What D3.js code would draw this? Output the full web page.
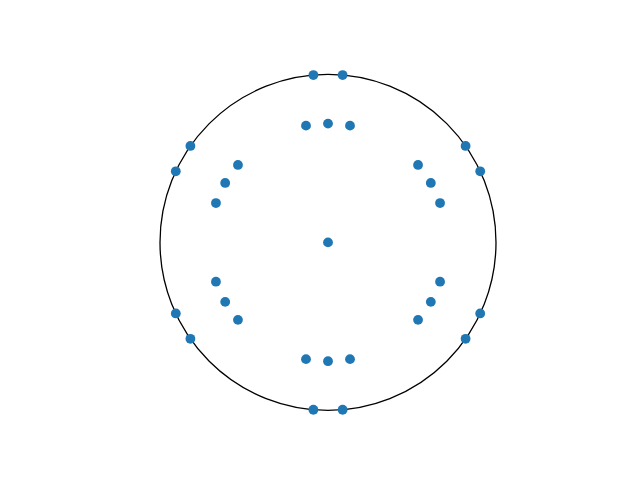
<!DOCTYPE html>
<html>
<head>
<meta charset="utf-8">
<script src="https://cdn.jsdelivr.net/npm/d3@7"></script>
<style>
  html, body { margin: 0; padding: 0; background: #ffffff; }
</style>
</head>
<body>
<script>
// Points on the unit circle
const outerX = [0.906, 0.819, 0.087, -0.087, -0.819, -0.906, -0.906, -0.819, -0.087, 0.087, 0.819, 0.906];
const outerY = [0.423, 0.574, 0.996, 0.996, 0.574, 0.423, -0.423, -0.574, -0.996, -0.996, -0.574, -0.423];
// Inner ring points (radius ~0.707)
const innerX = [0.667, 0.612, 0.536, 0.131, 0.000, -0.131, -0.536, -0.612, -0.667, -0.667, -0.612, -0.536, -0.131, 0.000, 0.131, 0.536, 0.612, 0.667];
const innerY = [0.234, 0.354, 0.461, 0.695, 0.707, 0.695, 0.461, 0.354, 0.234, -0.234, -0.354, -0.461, -0.695, -0.707, -0.695, -0.461, -0.354, -0.234];
// Center point
const centerX = [0.0];
const centerY = [0.0];
// Boundary circle
const circleR = [1.0];

(function () {
  const W = 640, H = 480;
  const plotLeft = 80, plotRight = 576, plotTop = 57.6, plotBottom = 427.2;
  const yHalf = 1.1;
  const pxPerUnit = (plotBottom - plotTop) / (2 * yHalf);
  const xHalf = (plotRight - plotLeft) / 2 / pxPerUnit;

  const x = d3.scaleLinear().domain([-xHalf, xHalf]).range([plotLeft, plotRight]);
  const y = d3.scaleLinear().domain([-yHalf, yHalf]).range([plotBottom, plotTop]);

  const svg = d3.select("body").append("svg")
    .attr("width", W).attr("height", H);

  svg.selectAll("circle.boundary").data(circleR).enter().append("circle")
    .attr("class", "boundary")
    .attr("cx", x(0)).attr("cy", y(0))
    .attr("r", d => x(d) - x(0))
    .attr("fill", "none")
    .attr("stroke", "#000000")
    .attr("stroke-width", 1.3);

  const pts = [];
  outerX.forEach((v, i) => pts.push([v, outerY[i]]));
  innerX.forEach((v, i) => pts.push([v, innerY[i]]));
  centerX.forEach((v, i) => pts.push([v, centerY[i]]));

  svg.selectAll("circle.pt").data(pts).enter().append("circle")
    .attr("class", "pt")
    .attr("cx", d => x(d[0]))
    .attr("cy", d => y(d[1]))
    .attr("r", 4.9)
    .attr("fill", "#1f77b4");
})();
</script>
</body>
</html>
